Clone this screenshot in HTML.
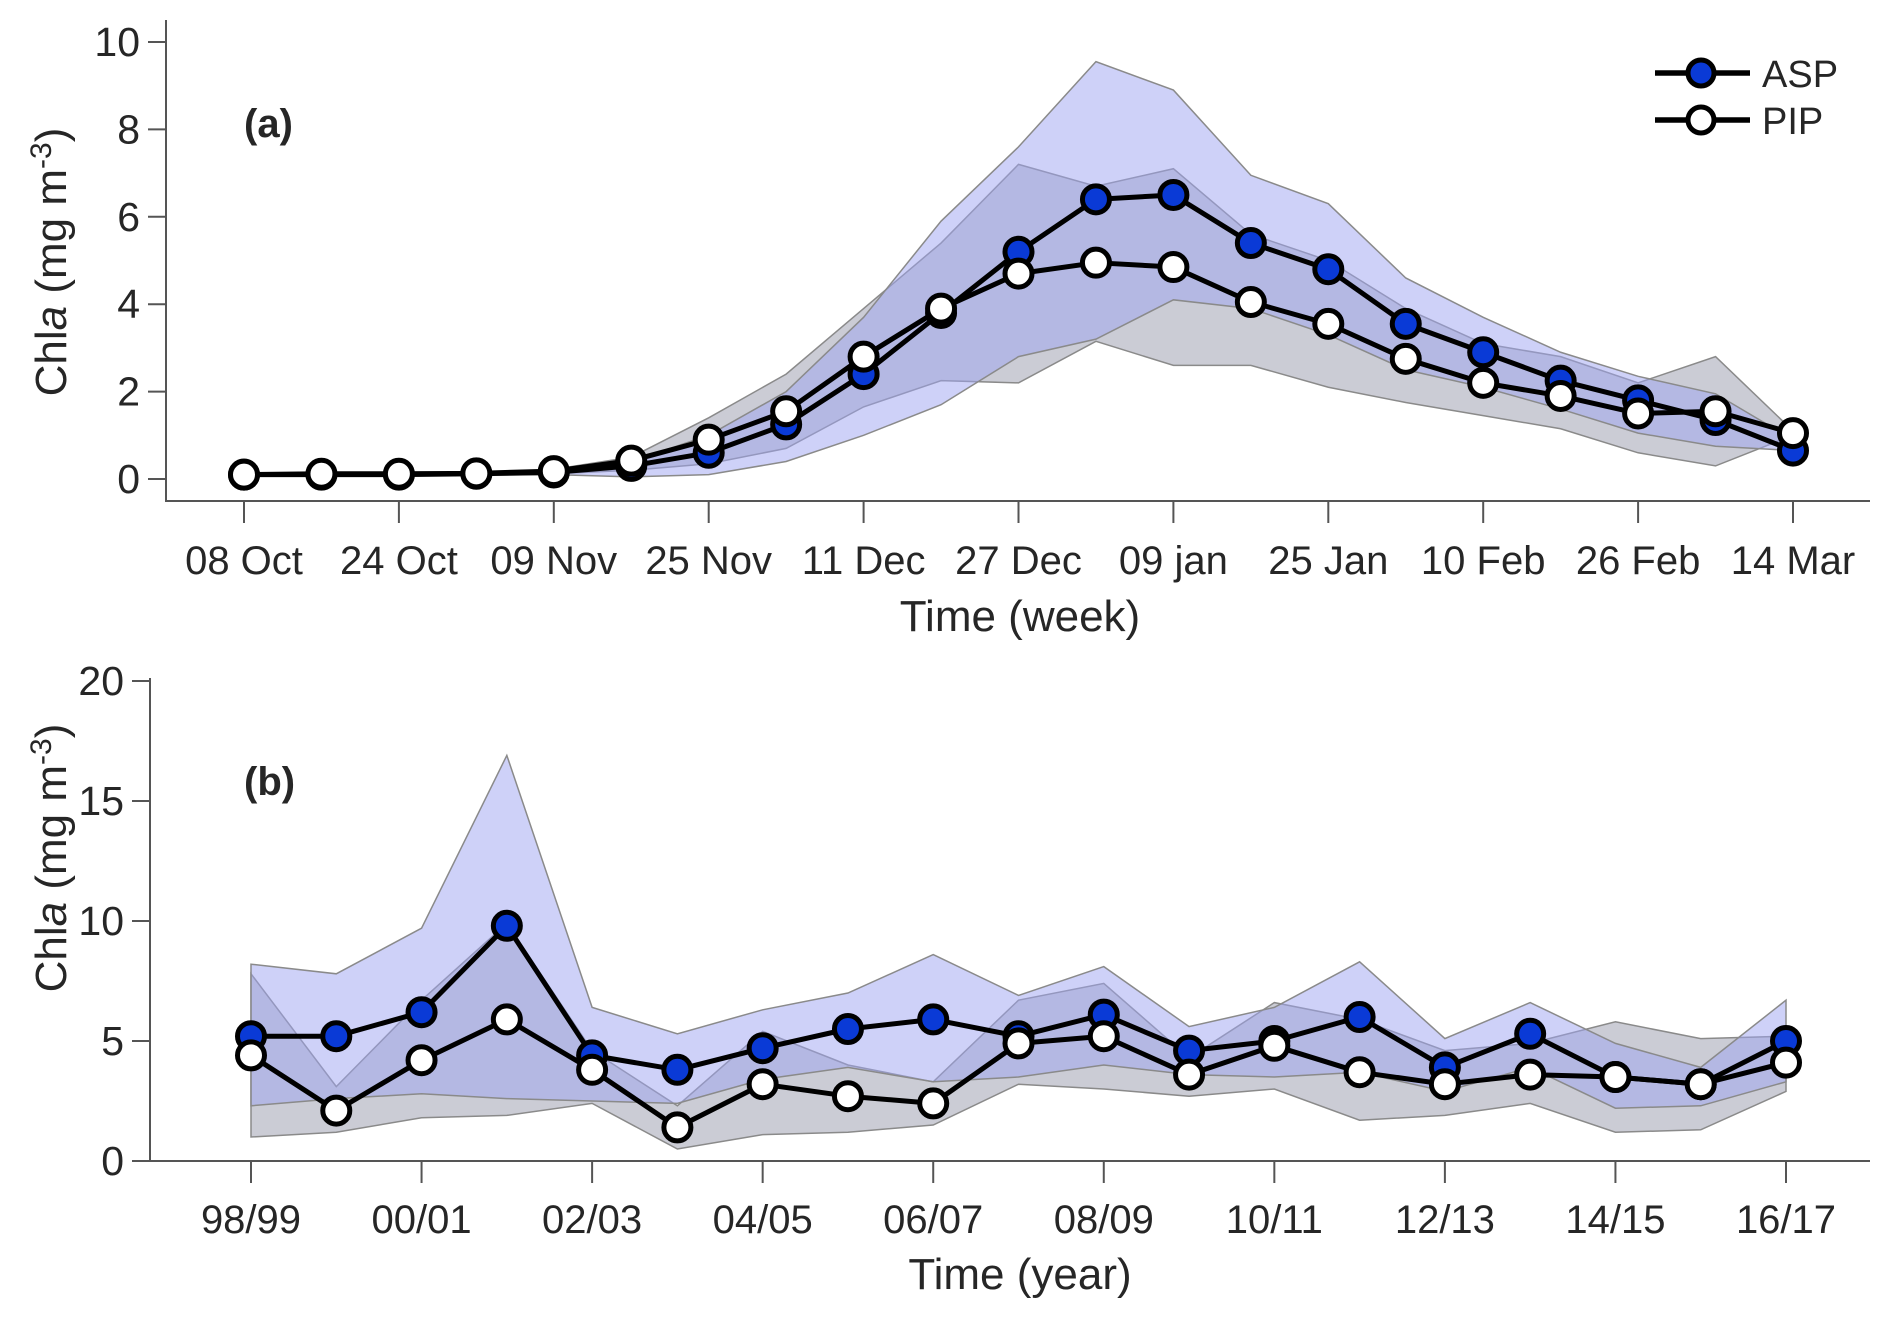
<!DOCTYPE html>
<html><head><meta charset="utf-8"><style>
body{margin:0;background:#fff}
svg text{font-family:"Liberation Sans",Arial,sans-serif;fill:#262626}
</style></head><body>
<svg id="chart" width="1892" height="1318" viewBox="0 0 1892 1318" xmlns="http://www.w3.org/2000/svg">
<g id="pa"></g>
<g id="pb"></g>
<g>
<g>
<line x1="1655" y1="73" x2="1750" y2="73" stroke="#000" stroke-width="5.5"/>
<circle cx="1701" cy="73" r="13" fill="#0a3ad6" stroke="#000" stroke-width="5"/>
<text x="1762" y="87" font-size="38">ASP</text></g>
<g>
<line x1="1655" y1="120" x2="1750" y2="120" stroke="#000" stroke-width="5.5"/>
<circle cx="1701" cy="120" r="13" fill="#fff" stroke="#000" stroke-width="5"/>
<text x="1762" y="134" font-size="38">PIP</text></g>
</g>
</svg>
<script>
const weekLabels=["08 Oct","24 Oct","09 Nov","25 Nov","11 Dec","27 Dec","09 jan","25 Jan","10 Feb","26 Feb","14 Mar"];
const aAsp=[0.1,0.1,0.1,0.12,0.15,0.3,0.6,1.25,2.4,3.8,5.2,6.4,6.5,5.4,4.8,3.55,2.9,2.25,1.8,1.35,0.65];
const aPip=[0.1,0.12,0.12,0.13,0.18,0.42,0.9,1.55,2.8,3.9,4.7,4.95,4.85,4.05,3.55,2.75,2.2,1.9,1.5,1.55,1.05];
const aAspHi=[0.1,0.1,0.1,0.12,0.2,0.4,1.0,2.0,3.7,5.9,7.6,9.55,8.9,6.95,6.3,4.6,3.7,2.9,2.35,1.95,0.9];
const aAspLo=[0.1,0.1,0.1,0.1,0.1,0.05,0.1,0.4,1.0,1.7,2.8,3.2,4.1,3.9,3.3,2.5,2.1,1.6,1.05,0.75,0.65];
const aPipHi=[0.1,0.12,0.12,0.13,0.22,0.5,1.4,2.4,3.9,5.4,7.2,6.7,7.1,5.6,5.0,3.9,3.1,2.8,2.2,2.8,1.1];
const aPipLo=[0.1,0.12,0.12,0.13,0.12,0.2,0.35,0.7,1.65,2.25,2.2,3.15,2.6,2.6,2.1,1.75,1.45,1.15,0.6,0.3,1.0];
const aYTicks=[0,2,4,6,8,10];
const yearLabels=["98/99","00/01","02/03","04/05","06/07","08/09","10/11","12/13","14/15","16/17"];
const bAsp=[5.2,5.2,6.2,9.8,4.4,3.8,4.7,5.5,5.9,5.2,6.1,4.6,5.0,6.0,3.9,5.3,3.5,3.2,5.0];
const bPip=[4.4,2.1,4.2,5.9,3.8,1.4,3.2,2.7,2.4,4.9,5.2,3.6,4.8,3.7,3.2,3.6,3.5,3.2,4.1];
const bAspHi=[8.2,7.8,9.7,16.9,6.4,5.3,6.3,7.0,8.6,6.9,8.1,5.6,6.4,8.3,5.1,6.6,4.9,3.9,6.7];
const bAspLo=[2.3,2.6,2.8,2.6,2.5,2.4,3.4,3.9,3.3,3.5,4.0,3.6,3.5,3.7,2.9,3.9,2.2,2.3,3.3];
const bPipHi=[7.8,3.1,6.7,9.9,4.6,2.3,5.4,4.0,3.3,6.7,7.4,4.3,6.6,5.9,4.6,4.9,5.8,5.1,5.2];
const bPipLo=[1.0,1.2,1.8,1.9,2.4,0.5,1.1,1.2,1.5,3.2,3.0,2.7,3.0,1.7,1.9,2.4,1.2,1.3,2.9];
const bYTicks=[0,5,10,15,20];
const NS="http://www.w3.org/2000/svg";
function mk(p,t,a){const e=document.createElementNS(NS,t);for(const k in a)e.setAttribute(k,a[k]);p.appendChild(e);return e;}
function panel(g,o){
 const X=i=>o.x0+(o.x1-o.x0)*i/(o.n-1);
 const Y=v=>o.y0+(o.yTop-o.y0)*v/o.ymax;
 function band(hi,lo,fill,op,name){
  let d="M"+hi.map((v,i)=>X(i)+","+Y(v)).join("L")+"L"+lo.map((v,i)=>X(i)+","+Y(v)).reverse().join("L")+"Z";
  const p=mk(g,"path",{d:d,fill:fill,"fill-opacity":op,stroke:"#8a8a8a","stroke-width":1.5});
  
  
 }
 band(o.pHi,o.pLo,"#8c8ea2",0.45,"pip-range-band");
 band(o.aHi,o.aLo,"#9da3f2",0.5,"asp-range-band");
 const ax=mk(g,"path",{d:`M${o.ax},${o.axTop}V${o.axBot}H1870`,fill:"none",stroke:"#555","stroke-width":2});
 
 
 o.yt.forEach(v=>{
  mk(g,"line",{x1:o.ax-18,x2:o.ax,y1:Y(v),y2:Y(v),stroke:"#555","stroke-width":2});
  const t=mk(g,"text",{x:o.ax-26,y:Y(v)+14,"font-size":41,"text-anchor":"end"});t.textContent=v;
  
  
 });
 o.xl.forEach((l,k)=>{
  const x=X(k*o.every);
  mk(g,"line",{x1:x,x2:x,y1:o.axBot,y2:o.axBot+22,stroke:"#555","stroke-width":2});
  const t=mk(g,"text",{x:x,y:o.xly,"font-size":40,"text-anchor":"middle"});t.textContent=l;
  
  
 });
 function series(vals,fill,name){
  const pl=mk(g,"polyline",{points:vals.map((v,i)=>X(i)+","+Y(v)).join(" "),fill:"none",stroke:"#000","stroke-width":5,"stroke-linejoin":"round"});
  
  
  vals.forEach((v,i)=>{const c=mk(g,"circle",{cx:X(i),cy:Y(v),r:13.5,fill:fill,stroke:"#000","stroke-width":5});
  
  });
 }
 series(o.a,"#0a3ad6","asp");
 series(o.p,"#fff","pip");
 const xt=mk(g,"text",{x:1020,y:o.xty,"font-size":44,"text-anchor":"middle"});xt.textContent=o.xt;
 
 
 const yt=mk(g,"text",{transform:`translate(66,${o.ylc}) rotate(-90)`,"font-size":44,"text-anchor":"middle"});
 yt.innerHTML='Chl<tspan font-style="italic">a</tspan> (mg m<tspan dy="-15" font-size="30">-3</tspan><tspan dy="15">)</tspan>';
 
 
 const pl=mk(g,"text",{x:244,y:o.ply,"font-size":40,"font-weight":"bold"});pl.textContent=o.plabel;
 
 
}
panel(document.getElementById("pa"),{x0:244,x1:1793,n:21,y0:479,yTop:42,ymax:10,ax:166,axTop:20,axBot:501,
 a:aAsp,p:aPip,aHi:aAspHi,aLo:aAspLo,pHi:aPipHi,pLo:aPipLo,yt:aYTicks,xl:weekLabels,every:2,xly:574,xty:631,xt:"Time (week)",ylc:262,ply:137,plabel:"(a)"});
panel(document.getElementById("pb"),{x0:251,x1:1786,n:19,y0:1161,yTop:681,ymax:20,ax:150,axTop:678,axBot:1161,
 a:bAsp,p:bPip,aHi:bAspHi,aLo:bAspLo,pHi:bPipHi,pLo:bPipLo,yt:bYTicks,xl:yearLabels,every:2,xly:1233,xty:1289,xt:"Time (year)",ylc:858,ply:795,plabel:"(b)"});
</script>
</body></html>
